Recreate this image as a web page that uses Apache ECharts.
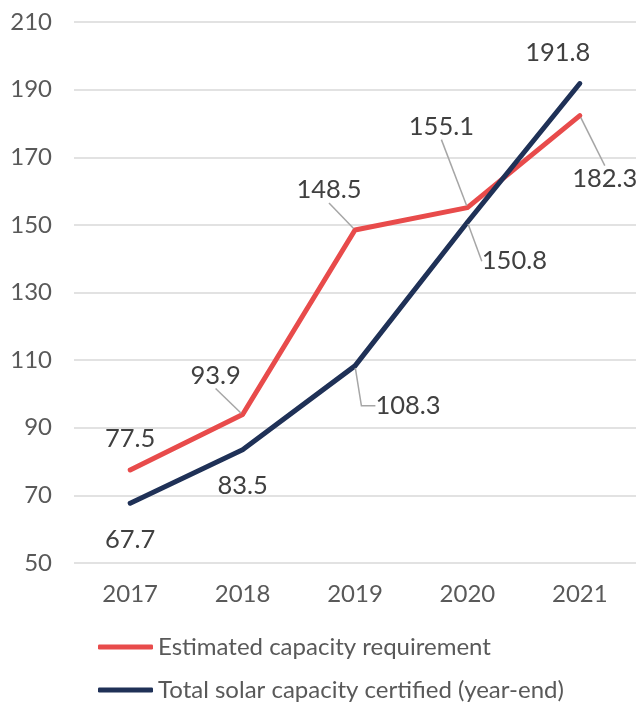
<!DOCTYPE html>
<html>
<head>
<meta charset="utf-8">
<script src="https://cdn.jsdelivr.net/npm/echarts@6/dist/echarts.min.js"></script>
<style>
  html, body { margin: 0; padding: 0; background: #fff; }
  #chart { width: 638px; height: 703px; }
</style>
</head>
<body>
<div id="chart"></div>
<script>
const years = ['2017', '2018', '2019', '2020', '2021']
const requirementName = 'Estimated capacity requirement'
const certifiedName = 'Total solar capacity certified (year-end)'
const requirement = [77.5, 93.9, 148.5, 155.1, 182.3]
const certified = [67.7, 83.5, 108.3, 150.8, 191.8]

// label offsets from the point, and whether a leader line is drawn
const requirementLabels = [
  { offset: [0, -31], line: false },
  { offset: [-27, -39], line: true },
  { offset: [-26, -40], line: true },
  { offset: [-26, -81], line: true },
  { offset: [25, 63], line: true },
]
const certifiedLabels = [
  { offset: [0, 37], line: false },
  { offset: [0, 36], line: false },
  { offset: [53, 40], line: true, elbow: 14 },
  { offset: [47, 39], line: true },
  { offset: [-22, -31], line: false },
]

const RED = '#E84B4B'
const NAVY = '#1F3157'
const AXIS_TEXT = '#595959'
const LABEL_TEXT = '#404040'
const FONT = 'Lato, "Open Sans", sans-serif'

function buildData(values, labels) {
  return values.map((value, i) => ({
    value,
    label: { offset: labels[i].offset },
    labelLine: {
      show: labels[i].line,
      length2: labels[i].elbow || 0,
      lineStyle: { color: '#A6A6A6', width: 1.5 },
    },
  }))
}

function lineSeries(name, values, labels, color) {
  return {
    name,
    type: 'line',
    data: buildData(values, labels),
    symbol: 'circle',
    symbolSize: 4,
    smooth: false,
    lineStyle: { color, width: 5, cap: 'round', join: 'round' },
    itemStyle: { color },
    emphasis: { disabled: true },
    label: {
      show: true,
      position: 'inside',
      align: 'center',
      verticalAlign: 'middle',
      color: LABEL_TEXT,
      fontFamily: FONT,
      fontSize: 25.5,
    },
  }
}

const chart = echarts.init(document.getElementById('chart'), null, { renderer: 'canvas' })

chart.setOption({
  backgroundColor: '#fff',
  animation: false,
  grid: { left: 74, right: 2, top: 22, bottom: 140, containLabel: false },
  legend: {
    orient: 'vertical',
    left: 98,
    top: 633,
    height: 100,
    padding: 0,
    itemWidth: 55,
    itemHeight: 5,
    itemGap: 15,
    icon: 'roundRect',
    textStyle: { color: AXIS_TEXT, fontFamily: FONT, fontSize: 24, lineHeight: 28 },
    data: [requirementName, certifiedName],
  },
  xAxis: {
    type: 'category',
    data: years,
    boundaryGap: true,
    axisLine: { show: false },
    axisTick: { show: false },
    axisLabel: { color: AXIS_TEXT, fontFamily: FONT, fontSize: 24, margin: 19 },
  },
  yAxis: {
    type: 'value',
    min: 50,
    max: 210,
    interval: 20,
    axisLine: { show: false },
    axisTick: { show: false },
    axisLabel: { color: AXIS_TEXT, fontFamily: FONT, fontSize: 24, margin: 22 },
    splitLine: { lineStyle: { color: '#D9D9D9', width: 1.5 } },
  },
  series: [
    lineSeries(requirementName, requirement, requirementLabels, RED),
    lineSeries(certifiedName, certified, certifiedLabels, NAVY),
  ],
})
</script>
</body>
</html>
